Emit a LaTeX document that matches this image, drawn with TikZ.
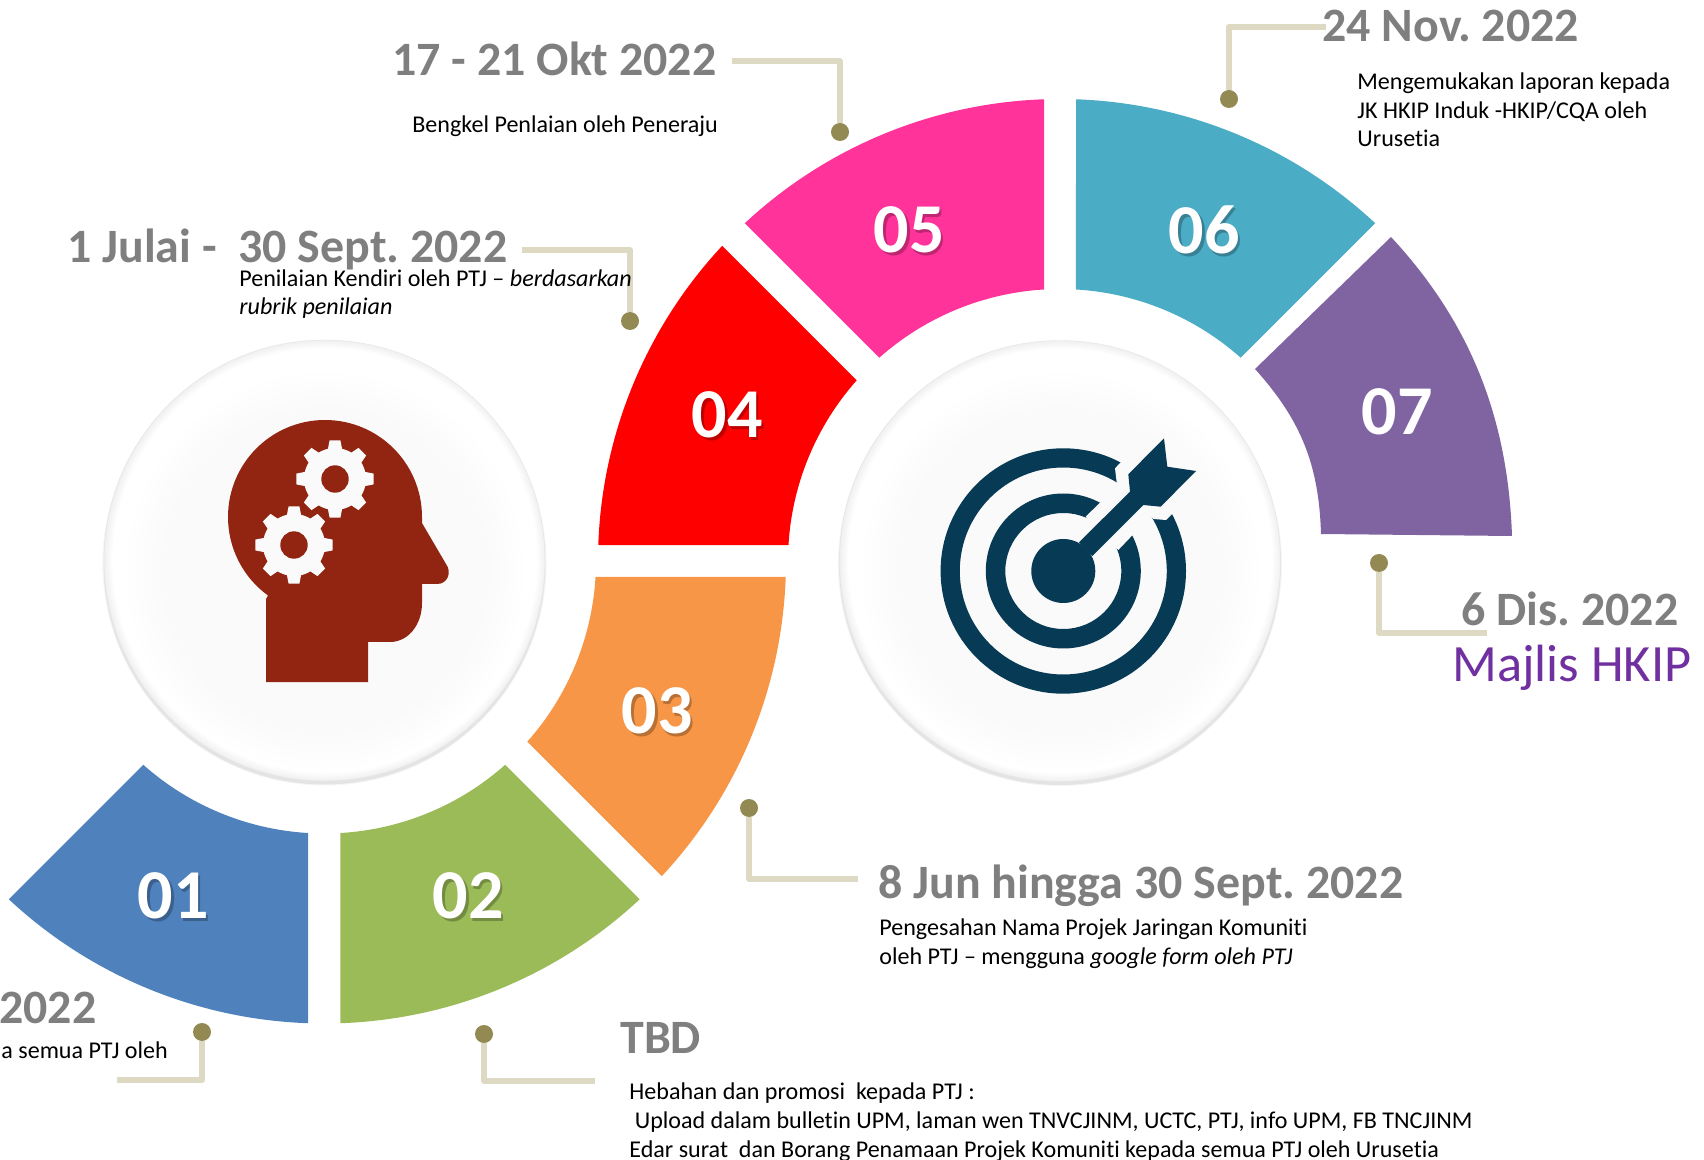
\documentclass[tikz,border=0pt]{standalone}
\usepackage{fontspec}
\setmainfont{Carlito}[Ligatures=NoCommon]
\usetikzlibrary{calc}
\definecolor{cA}{HTML}{4F81BD}
\definecolor{cB}{HTML}{9BBB59}
\definecolor{cC}{HTML}{F79646}
\definecolor{cD}{HTML}{FF0000}
\definecolor{cE}{HTML}{FF3399}
\definecolor{cF}{HTML}{4BACC6}
\definecolor{cG}{HTML}{8064A2}
\definecolor{headc}{HTML}{922512}
\definecolor{targc}{HTML}{073A54}
\definecolor{discc}{HTML}{FAFAFA}
\definecolor{linec}{HTML}{DDD9C3}
\definecolor{dotc}{HTML}{938953}
\definecolor{hdc}{HTML}{7F7F7F}
\definecolor{majc}{HTML}{7030A0}
\pgfdeclareradialshading{discedge}{\pgfpoint{0bp}{.7bp}}{%
 color(0bp)=(white); color(24bp)=(white); color(25bp)=(black!6); color(25.4bp)=(black!16); color(25.7bp)=(black!35)}
\pgfdeclareradialshading{discin}{\pgfpoint{0bp}{0bp}}{%
 color(0bp)=(discc); color(20bp)=(discc); color(25bp)=(white)}
\tikzset{
 conn/.style={draw=linec,line width=2.8pt,line join=round},
 dotn/.style={circle,fill=dotc,inner sep=0pt,minimum size=9pt},
 hd/.style={font=\fontsize{23.95}{27}\selectfont\bfseries,text=hdc,inner sep=0pt,anchor=base west},
 bd/.style={font=\fontsize{12.03}{14.4}\selectfont,text=black,inner sep=0pt,anchor=base west,align=left},
 num/.style={font=\fontsize{35}{40}\selectfont\bfseries,text=white,inner sep=0pt},
 numsh/.style={font=\fontsize{35}{40}\selectfont\bfseries,text=black,inner sep=0pt,opacity=.25},
}
\newcommand{\seg}[5]{%
 \fill[#5,shift={(#1,#2)}] (#3+1.985:462) arc[start angle=#3+1.985,end angle=#4-1.985,radius=462]
   -- (#4-3.37:272) arc[start angle=#4-3.37,end angle=#3+3.37,radius=272] -- cycle;}
\newcommand{\disc}[2]{%
 \foreach \rr/\oo in {222/.04,221/.07}{\fill[black,opacity=\oo] (#1,#2+3) circle[radius=\rr];}
 \shade[shading=discedge] (#1,#2) circle[radius=220.5];
 \draw[black!10,line width=.2pt] (#1,#2) circle[radius=220.5];
 \shade[shading=discin] (#1,#2+10) circle[radius=202];}
\newcommand{\gearic}[2]{%
 \fill[discc] (#1,#2) circle[radius=31];
 \foreach \a in {0,45,...,315}{\fill[discc,shift={(#1,#2)}] (\a-14:30) -- (\a-8:39) -- (\a+8:39) -- (\a+14:30) -- cycle;}
 \fill[headc] (#1,#2) circle[radius=13.7];}
\newcommand{\numb}[3]{%
 \node[numsh] at ($(#1,#2)+(2.5,2.5)$) {#3};
 \node[num] (n#3) at (#1,#2) {#3};}
\begin{document}
\frenchspacing
\begin{tikzpicture}[x=.5pt,y=-.5pt]
\useasboundingbox (0,0) rectangle (1704,1160);
% discs
\disc{324.5}{560.5}
\disc{1060}{561}
% segments
\seg{324}{561.5}{90}{135}{cA}
\seg{324.5}{561.5}{45}{90}{cB}
\seg{324}{561}{0}{45}{cC}
\seg{1060}{561}{180}{225}{cD}
\seg{1060}{561}{225}{270}{cE}
\seg{1060}{561}{270}{315}{cF}
\fill[cG] (1391,237) .. controls (1471,323) and (1508,419) .. (1512,536) -- (1321,534)
   .. controls (1319,465) and (1301,420) .. (1255,369) -- cycle;
% numbers
\numb{173}{896}{01}
\numb{468}{896}{02}
\numb{657}{711}{03}
\numb{727}{415}{04}
\numb{909}{230}{05}
\numb{1204}{230}{06}
\node[num] (n07) at (1397,412) {07};
% head icon
\fill[headc] (266,682) -- (368,682) -- (368,642) -- (390,642) .. controls (408,642) and (422,625) .. (422,603)
  -- (422,584) -- (437,584) .. controls (448,584) and (452,572) .. (446,564) -- (422,523) -- (422,517)
  arc[start angle=0,end angle=-234,radius=97] -- (266,599) -- cycle;
\gearic{335}{479}
\gearic{294}{545}
% target icon
\fill[targc,even odd rule] (1063.3,571) circle[radius=122.7] circle[radius=103.5];
\fill[targc,even odd rule] (1063.3,571) circle[radius=77.5] circle[radius=58];
\fill[targc] (1063.3,571) circle[radius=32];
\fill[discc] (1116.7,482.3) -- (1115,468.3) -- (1125,458) -- (1190,488) -- (1173,513) -- (1166,520) -- (1153.3,519) -- cycle;
\fill[discc] (1106.7,496) -- (1085.7,516.7) -- (1118.3,550) -- (1139,528.3) -- cycle;
\fill[targc] (1079,542.3) -- (1130,491.7) -- (1128.3,474.3) -- (1164,438.3) -- (1167.3,466.7) -- (1196,471) -- (1160.7,506.7) -- (1143.3,505) -- (1092.3,556) -- cycle;
% connectors
\node[dotn] (d1) at (202,1032) {};
\coordinate (e1) at (117,1080);
\draw[conn] (d1.south) |- (e1);
\node[dotn] (d2) at (484,1034) {};
\coordinate (e2) at (595,1081);
\draw[conn] (d2.south) |- (e2);
\node[dotn] (d3) at (749,808) {};
\coordinate (e3) at (858,879);
\draw[conn] (d3.south) |- (e3);
\node[dotn] (d4) at (630,321) {};
\coordinate (e4) at (522,250);
\draw[conn] (d4.north) |- (e4);
\node[dotn] (d5) at (840,132) {};
\coordinate (e5) at (732,61);
\draw[conn] (d5.north) |- (e5);
\node[dotn] (d6) at (1229,99) {};
\coordinate (e6) at (1326,27);
\draw[conn] (d6.north) |- (e6);
\node[dotn] (d7) at (1379,563) {};
\coordinate (e7) at (1487,633);
\draw[conn] (d7.south) |- (e7);
% texts
\node[hd] (t1) at (-1,1023) {2022};
\node[bd] (b1) at (1,1058) {a semua PTJ oleh};
\node[hd] (t2) at (620,1053) {TBD};
\node[bd] (b2) at (629,1157) {Hebahan dan promosi\ \ kepada PTJ :\\\ Upload dalam bulletin UPM, laman wen TNVCJINM, UCTC, PTJ, info UPM, FB TNCJINM\\Edar surat\ \ dan Borang Penamaan Projek Komuniti kepada semua PTJ oleh Urusetia};
\node[hd] (t3) at (878,898) {8 Jun hingga 30 Sept. 2022};
\node[bd] (b3) at (879,964) {Pengesahan Nama Projek Jaringan Komuniti\\oleh PTJ – mengguna \textit{google form oleh PTJ}};
\node[hd] (t4) at (67,263) {1 Julai -\ \ 30 Sept. 2022};
\node[bd] (b4) at (239,315) {Penilaian Kendiri oleh PTJ – \textit{berdasarkan}\\\textit{rubrik penilaian}};
\node[hd] (t5) at (392,76) {17 - 21 Okt 2022};
\node[bd] (b5) at (412,133) {Bengkel Penlaian oleh Peneraju};
\node[hd] (t6) at (1322,42) {24 Nov. 2022};
\node[bd] (b6) at (1357,147) {Mengemukakan laporan kepada\\JK HKIP Induk -HKIP/CQA oleh\\Urusetia};
\node[hd] (t7) at (1461,625) {6 Dis. 2022};
\node[font=\fontsize{26.2}{30}\selectfont,text=majc,inner sep=0pt,anchor=base west] (t8) at (1452,682) {Majlis HKIP};
\end{tikzpicture}
\end{document}
